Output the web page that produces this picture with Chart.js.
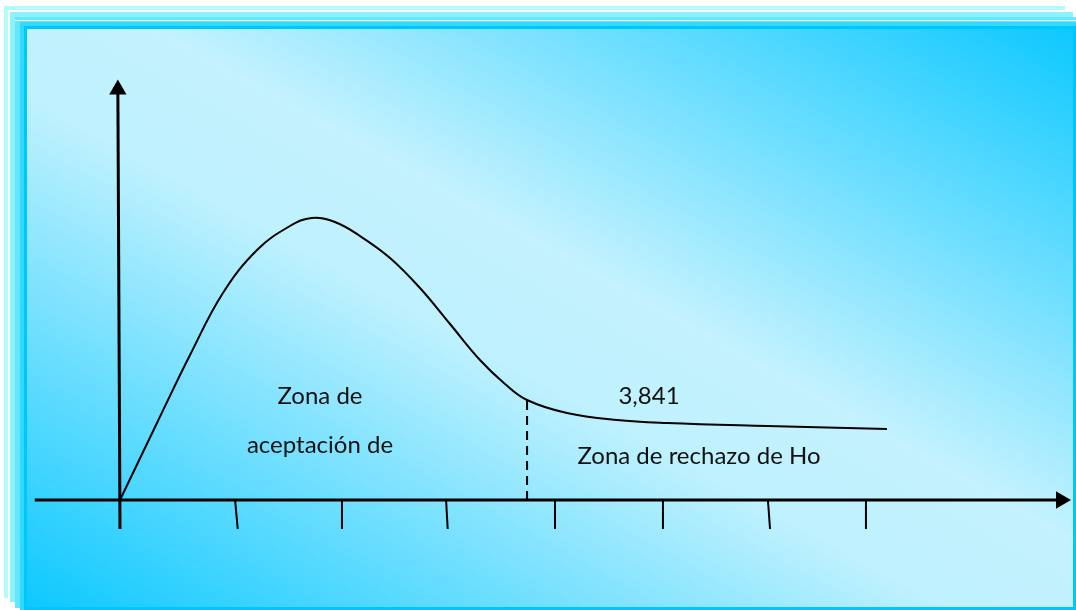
<!DOCTYPE html>
<html>
<head>
<meta charset="utf-8">
<script src="https://cdn.jsdelivr.net/npm/chart.js@4"></script>
<style>
  body { margin: 0; background: #fff; }
  canvas { display: block; }
</style>
</head>
<body>
<canvas id="chart" width="1076" height="610"></canvas>
<script>
// curve (x: tick units from origin, y: height above axis)
const curveX = [0, 0.347, 0.657, 0.966, 1.286, 1.595, 1.80, 2.016, 2.252, 2.534, 2.815, 3.097, 3.378, 3.613, 3.819, 4.194, 4.664, 5.133, 6.071, 7.197];
const curveY = [0, 0.77, 1.45, 2.07, 2.50, 2.74, 2.82, 2.78, 2.64, 2.42, 2.12, 1.76, 1.40, 1.16, 1.00, 0.87, 0.80, 0.77, 0.74, 0.71];

// small marks under the x axis (top and bottom x, slightly slanted like the drawing)
const tickTopX = [0, 1.08, 2.083, 3.06, 4.082, 5.095, 6.08, 7.0];
const tickBottomX = [0, 1.105, 2.083, 3.075, 4.082, 5.095, 6.1, 7.0];
const tickDepth = -0.29;

const criticalX = 3.82;
const criticalY = 1.0;

const labelText = ['Zona de', 'aceptación de', '3,841', 'Zona de rechazo de Ho'];
const labelX = [1.877, 1.877, 4.964, 5.433];
const labelY = [0.96, 0.473, 0.96, 0.357];

let chart;

const frameBackground = {
    id: 'frameBackground',
    beforeDraw(c) {
        const ctx = c.ctx;
        ctx.save();
        // stacked frames behind the main box
        ctx.fillStyle = '#b2fbff';
        ctx.fillRect(4, 6, 1061, 592);
        ctx.fillStyle = '#ffffff';
        ctx.fillRect(8, 10, 1058, 2);
        ctx.fillRect(8, 10, 2, 588);
        ctx.fillStyle = '#8cf2ff';
        ctx.fillRect(10, 12, 1063, 590);
        ctx.fillStyle = '#65e8ff';
        ctx.fillRect(15, 17, 1061, 591);
        ctx.fillStyle = '#ffffff';
        ctx.fillRect(15, 20, 1061, 1);
        ctx.fillStyle = '#30dbff';
        ctx.fillRect(20, 22, 1056, 588);
        // main box, light band along the top-left to bottom-right diagonal
        const g = ctx.createLinearGradient(302, 765, 798, -129);
        g.addColorStop(0, '#0cc8ff');
        g.addColorStop(0.44, '#bff1fe');
        g.addColorStop(0.56, '#c4f2fe');
        g.addColorStop(1, '#0cc8ff');
        ctx.fillStyle = g;
        ctx.fillRect(24, 26, 1052, 584);
        ctx.strokeStyle = '#00c6ff';
        ctx.lineWidth = 3;
        ctx.strokeRect(25.5, 27.5, 1049, 581);
        ctx.restore();
    }
};

const zoneLabels = {
    id: 'zoneLabels',
    afterDatasetsDraw(c) {
        const ctx = c.ctx;
        const xs = c.scales.x, ys = c.scales.y;
        ctx.save();
        ctx.fillStyle = '#111';
        ctx.font = '24px Lato';
        ctx.textAlign = 'center';
        ctx.textBaseline = 'alphabetic';
        labelText.forEach((t, i) => {
            ctx.fillText(t, xs.getPixelForValue(labelX[i]), ys.getPixelForValue(labelY[i]));
        });
        ctx.restore();
    }
};

function lineSet(points, width, dash) {
    return {
        data: points,
        borderColor: '#000',
        borderWidth: width,
        borderDash: dash || [],
        pointRadius: 0,
        tension: 0
    };
}

function arrowSet(x, y, rotation) {
    return {
        data: [{x: x, y: y}],
        showLine: false,
        pointStyle: 'triangle',
        pointRadius: 10,
        pointRotation: rotation,
        pointBackgroundColor: '#000',
        pointBorderWidth: 0
    };
}

let datasets = [];
datasets.push({
    data: curveX.map((x, i) => ({x: x, y: curveY[i]})),
    borderColor: '#000',
    borderWidth: 2,
    pointRadius: 0,
    tension: 0.4
});
// axes
datasets.push(lineSet([{x: -0.8, y: 0}, {x: 8.83, y: 0}], 3));
datasets.push(lineSet([{x: 0, y: tickDepth}, {x: -0.02, y: 4.1}], 3));
datasets.push(arrowSet(8.83, 0, 90));
datasets.push(arrowSet(-0.02, 4.105, 0));
// ticks
tickTopX.forEach((x, i) => {
    datasets.push(lineSet([{x: x, y: 0}, {x: tickBottomX[i], y: tickDepth}], 2));
});
// critical value
datasets.push(lineSet([{x: criticalX, y: 0}, {x: criticalX, y: criticalY}], 2, [9, 6]));

const ctx = document.getElementById('chart').getContext('2d');
chart = new Chart(ctx, {
    type: 'line',
    data: { datasets: datasets },
    options: {
        responsive: false,
        animation: false,
        layout: { padding: 0, autoPadding: false },
        plugins: {
            legend: { display: false },
            tooltip: { enabled: false }
        },
        scales: {
            x: { type: 'linear', display: false, min: -1.126, max: 8.971 },
            y: { type: 'linear', display: false, min: -1.1, max: 5.0 }
        }
    },
    plugins: [frameBackground, zoneLabels]
});
</script>
</body>
</html>
